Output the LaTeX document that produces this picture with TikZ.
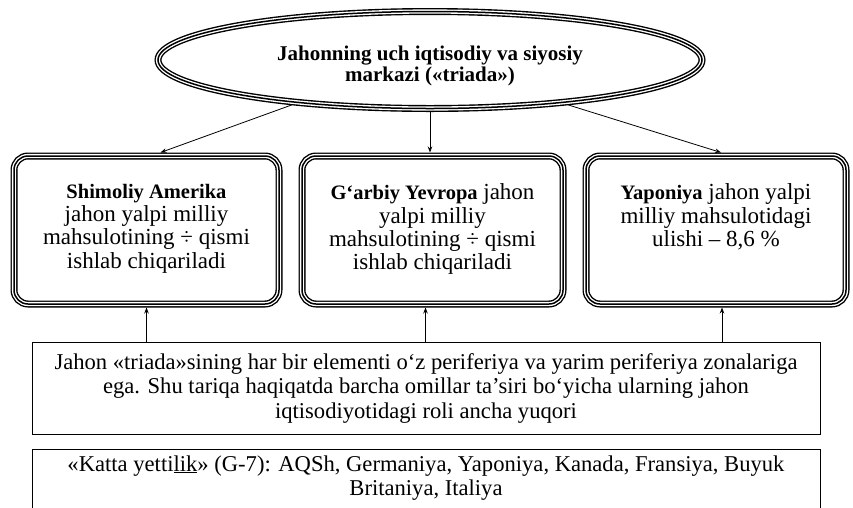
\documentclass[tikz,border=0pt]{standalone}
\usepackage{fontspec}
\setmainfont{Liberation Serif}
\usetikzlibrary{arrows.meta,shapes.geometric}
\begin{document}
\begin{tikzpicture}[x=1pt,y=-1pt,
  triple/.style={preaction={draw,line width=7pt},preaction={draw,white,line width=4.2pt},draw,line width=1.5pt},
  rbox/.style={triple,rounded corners=14pt,inner sep=0pt,outer sep=3.5pt,minimum height=148pt},
  ellbox/.style={triple,ellipse,inner sep=0pt,outer sep=3.5pt,minimum width=544pt,minimum height=97pt},
  plainbox/.style={draw,line width=0.9pt,minimum width=788pt},
  conn/.style={line width=0.8pt,-{Stealth[length=6pt,width=4.5pt]}},
  bodyfont/.style={font=\fontsize{23}{23.3}\selectfont},
  lowfont/.style={font=\fontsize{22.6}{24.5}\selectfont}
]
\newcommand{\bfx}[1]{{\fontsize{20.5}{23}\selectfont\bfseries #1}}
\useasboundingbox (0,0) rectangle (853,507);

% central ellipse
\node[ellbox] (ell) at (430,60) {};
\node[font=\fontsize{21}{21.5}\selectfont\bfseries,align=center] (title) at (430,66)
  {Jahonning uch iqtisodiy va siyosiy\\markazi («triada»)};

% three rounded boxes
\node[rbox,minimum width=265pt,bodyfont] (b1) at (146.5,230)
  {\begin{minipage}[c][92pt][t]{255pt}\centering
   \bfx{Shimoliy Amerika}\\jahon yalpi milliy\\mahsulotining ÷ qismi\\ishlab chiqariladi\end{minipage}};
\node[rbox,minimum width=261pt,bodyfont] (b2) at (432.5,230)
  {\begin{minipage}[c][92pt][t]{251pt}\centering
   \bfx{G‘arbiy Yevropa} jahon\\yalpi milliy\\mahsulotining ÷ qismi\\ishlab chiqariladi\end{minipage}};
\node[rbox,minimum width=260pt,bodyfont] (b3) at (716,230)
  {\begin{minipage}[c][92pt][t]{250pt}\centering
   \bfx{Yaponiya} jahon yalpi\\milliy mahsulotidagi\\ulishi – 8,6 \%\end{minipage}};

% lower boxes
\node[plainbox,minimum height=92pt,align=center,lowfont] (lb) at (426,388)
  {Jahon «triada»sining har bir elementi o‘z periferiya va yarim periferiya zonalariga\\
   ega. Shu tariqa haqiqatda barcha omillar ta’siri bo‘yicha ularning jahon\\
   iqtisodiyotidagi roli ancha yuqori};
\node[plainbox,anchor=north,inner sep=6pt,minimum height=65pt,lowfont] (kg) at (426,449)
  {\begin{minipage}[c][53pt][t]{770pt}\centering
   «Katta yetti\underline{lik}» (G-7): AQSh, Germaniya, Yaponiya, Kanada, Fransiya, Buyuk\\
   Britaniya, Italiya\end{minipage}};

% connectors from the ellipse
\draw[conn] (ell.198) -- ([xshift=14pt]b1.north);
\draw[conn] (ell.south) -- (ell.south |- b2.north);
\draw[conn] (ell.342) -- ([xshift=5pt]b3.north);

% connectors from the lower box
\draw[conn] (b1.south |- lb.north) -- (b1.south);
\draw[conn] ([xshift=-7pt]b2.south |- lb.north) -- ([xshift=-7pt]b2.south);
\draw[conn] ([xshift=6pt]b3.south |- lb.north) -- ([xshift=6pt]b3.south);
\end{tikzpicture}
\end{document}
